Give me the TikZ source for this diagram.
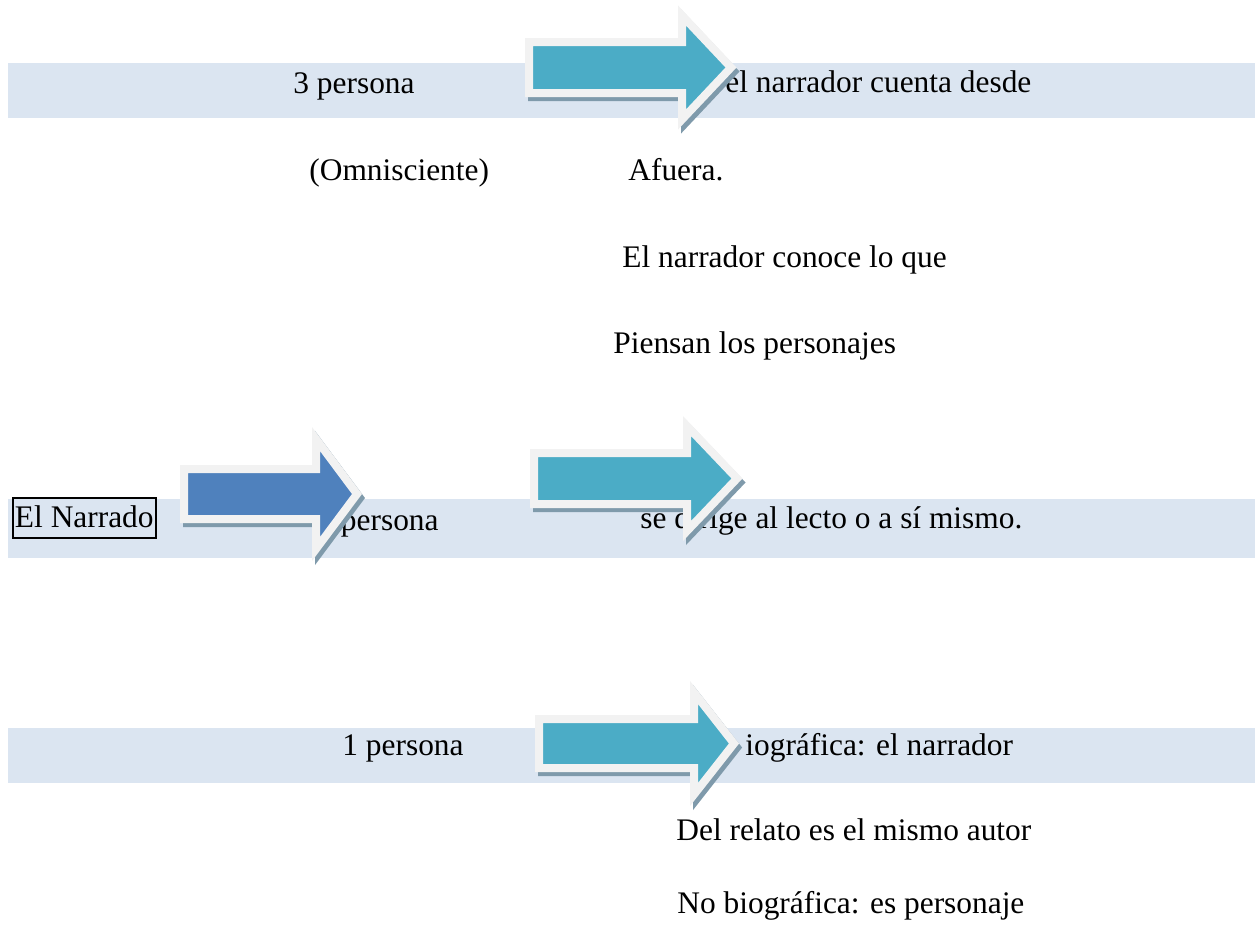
\documentclass[tikz,border=0pt]{standalone}
\usepackage{fontspec}
\setmainfont{Liberation Serif}

\definecolor{banda}{HTML}{DBE5F1}
\definecolor{turq}{HTML}{4BACC6}
\definecolor{azul}{HTML}{4F81BD}
\definecolor{borde}{HTML}{F2F2F2}
\definecolor{sombra}{HTML}{7F9AAB}

\tikzset{
  texto/.style={anchor=base west, inner sep=0pt, font=\fontsize{15.7}{18}\selectfont},
  flechaborde/.style={draw=borde, line width=4pt, line join=miter},
}

% #1 color, #2 left x, #3 center y, #4 head base x, #5 tip x, #6 half shaft, #7 half head
\newcommand{\flecha}[7]{
  \draw[flechaborde, draw=sombra, fill=sombra, shift={(3,4)}]
    ({#2+4},{#3-#6+4}) -- ({#4+4},{#3-#6+4}) -- ({#4+4},{#3-#7+6}) -- ({#5-6},#3)
    -- ({#4+4},{#3+#7-6}) -- ({#4+4},{#3+#6-4}) -- ({#2+4},{#3+#6-4}) -- cycle;
  \draw[flechaborde, fill=#1]
    ({#2+4},{#3-#6+4}) -- ({#4+4},{#3-#6+4}) -- ({#4+4},{#3-#7+6}) -- ({#5-6},#3)
    -- ({#4+4},{#3+#7-6}) -- ({#4+4},{#3+#6-4}) -- ({#2+4},{#3+#6-4}) -- cycle;
}

\begin{document}
\begin{tikzpicture}[x=0.5pt, y=-0.5pt]

\useasboundingbox (0,0) rectangle (1255,928);

% bandas
\foreach \ya/\yb in {63/118, 499/558, 728/783}
{
    \fill[banda] (8,\ya) rectangle (1255,\yb);
}

% tercera persona
\node[texto] (tres) at (293,93) {3 persona};
\node[texto] (desde) at (725,92) {el narrador cuenta desde};
\node[texto] (omni) at (309,180) {(Omnisciente)};
\node[texto] (afuera) at (628,180) {Afuera.};
\node[texto] (conoce) at (622,267) {El narrador conoce lo que};
\node[texto] (piensan) at (613,353) {Piensan los personajes};

% segunda persona
\node[texto, draw, line width=1pt, inner xsep=1pt, inner ysep=2.5pt,
      text height=12pt, text depth=3pt] (narrado) at (12,527) {El Narrado};
\node[texto] (dos) at (317,530) {2 persona};
\node[texto] (lector) at (640,528) {se dirige al lecto o a sí mismo.};

% primera persona
\node[texto] (uno) at (342,755) {1 persona};
\node[texto] (bio) at (745,755) {iográfica: el narrador};
\node[texto] (relato) at (676,840) {Del relato es el mismo autor};
\node[texto] (nobio) at (677,913) {No biográfica: es personaje};

% flechas
\flecha{turq}{525}{67.5}{678}{737}{29.5}{58}
\flecha{azul}{180}{494}{312}{363}{29}{61}
\flecha{turq}{530}{478.5}{683}{743}{29.5}{58.5}
\flecha{turq}{535}{743.5}{690}{740}{28.5}{57}

\end{tikzpicture}
\end{document}
